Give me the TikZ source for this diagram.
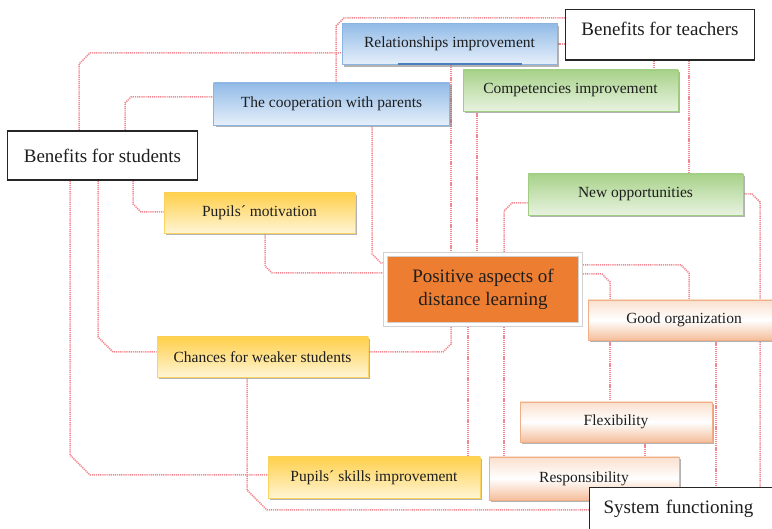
\documentclass[tikz,border=0pt]{standalone}
\usepackage{fontspec}
\setmainfont{Liberation Serif}
\usetikzlibrary{shadows}

\definecolor{linkred}{RGB}{242,135,145}
\definecolor{blueA}{RGB}{146,187,231}
\definecolor{blueB}{RGB}{230,239,250}
\definecolor{blueE}{RGB}{140,180,225}
\definecolor{blueLine}{RGB}{75,125,195}
\definecolor{greenA}{RGB}{168,210,138}
\definecolor{greenB}{RGB}{232,243,224}
\definecolor{greenE}{RGB}{160,205,130}
\definecolor{yellowA}{RGB}{255,208,76}
\definecolor{yellowB}{RGB}{255,245,212}
\definecolor{yellowE}{RGB}{250,212,95}
\definecolor{peachA}{RGB}{250,224,206}
\definecolor{peachB}{RGB}{245,190,155}
\definecolor{peachE}{RGB}{240,175,135}
\definecolor{orangeC}{RGB}{237,125,49}
\definecolor{txt}{RGB}{30,30,30}

\pgfdeclarelayer{background}
\pgfsetlayers{background,main}

\tikzset{
  box/.style={rectangle, inner sep=0pt, minimum height=40pt, text=txt,
    font=\fontsize{15.5}{18}\selectfont, line width=0.6pt,
    drop shadow={shadow xshift=2pt, shadow yshift=-2.5pt, fill=black!50, opacity=0.6}},
  bluebox/.style={box, draw=blueE, top color=blueA, bottom color=blueB},
  greenbox/.style={box, draw=greenE, top color=greenA, bottom color=greenB},
  yellowbox/.style={box, draw=yellowE, top color=yellowA, bottom color=yellowB},
  peachbox/.style={box, draw=peachE, top color=peachA, bottom color=peachB, middle color=white},
  head/.style={rectangle, draw=black!85, line width=1.2pt, fill=white, inner sep=0pt,
    font=\fontsize{19}{22}\selectfont, text=txt},
  central/.style={rectangle, fill=orangeC, draw=black!18, double=white, double distance=3pt,
    line width=0.7pt, minimum width=195pt, minimum height=70pt, align=center,
    font=\fontsize{19}{23}\selectfont, text=txt,
    drop shadow={shadow xshift=2pt, shadow yshift=-3pt, fill=black!45, opacity=0.6}},
  link/.style={draw=linkred, line width=1.5pt, dash pattern=on 1.2pt off 0.9pt},
}

\begin{document}
\begin{tikzpicture}[x=1pt, y=-1pt]
\useasboundingbox (0,0) rectangle (772,529);
\clip (0,0) rectangle (772,529);

% group headings
\node[head, minimum width=190pt, minimum height=49pt] (students) at (102.5,155.5) {Benefits for students};
\node[head, minimum width=189pt, text height=25.5pt, text depth=25pt, anchor=north] (teachers) at (660,9) {Benefits for teachers};

% aspect boxes
\node[bluebox, minimum width=215pt, minimum height=41pt] (relations) at (449.5,44) {Relationships improvement};
\draw[line width=1.8pt, draw=blueLine] ([xshift=56pt,yshift=1pt]relations.south west) -- ([xshift=-35pt,yshift=1pt]relations.south east);
\node[bluebox, minimum width=236pt, minimum height=42pt] (parents) at (331.5,104) {The cooperation with parents};
\node[greenbox, minimum width=215pt, minimum height=41pt] (competencies) at (570.5,90.5) {Competencies improvement};
\node[greenbox, minimum width=215pt, minimum height=41pt] (opportunities) at (635.5,194.5) {New opportunities};
\node[yellowbox, minimum width=191pt] (motivation) at (259.5,213) {Pupils´ motivation};
\node[yellowbox, minimum width=211pt] (chances) at (262.5,357) {Chances for weaker students};
\node[yellowbox, minimum width=212pt, minimum height=41pt] (skills) at (374,477.5) {Pupils´ skills improvement};
\node[peachbox, minimum width=192pt] (organization) at (684,320) {Good organization};
\node[peachbox, minimum width=192pt] (flexibility) at (616,422) {Flexibility};
\node[peachbox, minimum width=190pt, minimum height=43pt] (responsibility) at (584,478.5) {Responsibility};

% central topic
\node[central] (center) at (483,289.5) {Positive aspects of\\distance learning};

% third heading, partly beyond the frame
\node[head, anchor=north west, text width=180pt, inner xsep=14pt, inner ysep=0pt,
      text height=26pt, text depth=40pt, align=left] (system) at (589,487) {System functioning};

% dotted connectors
\begin{pgfonlayer}{background}
% from the students heading
\draw[link] (79,0 |- students.north) -- (79,64) -- (90,53) -- (relations.west |- 0,53);
\draw[link] (125,0 |- students.north) -- (125,103) -- (131,97) -- (parents.west |- 0,97);
\draw[link] (133,0 |- students.south) -- (133,204) -- (141,212) -- (motivation.west |- 0,212);
\draw[link] (98,0 |- students.south) -- (98,337) -- (113,352) -- (chances.west |- 0,352);
\draw[link] (70,0 |- students.south) -- (70,455) -- (90,475) -- (skills.west |- 0,475);
% from the teachers heading
\draw[link] (336,0 |- parents.north) -- (336,26) -- (344,18) -- (teachers.west |- 0,18);
\draw[link] (relations.east |- 0,44) -- (teachers.west |- 0,44);
\draw[link] (654,0 |- teachers.south) -- (654,0 |- competencies.north);
\draw[link] (689,0 |- teachers.south) -- (689,0 |- opportunities.north);
% into the central topic from above and the left
\draw[link] (451,0 |- relations.south) -- (451,0 |- center.north);
\draw[link] (477,0 |- competencies.south) -- (477,0 |- center.north);
\draw[link] (opportunities.west |- 0,203) -- (512,203) -- (504,211) -- (504,0 |- center.north);
\draw[link] (372,0 |- parents.south) -- (372,254) -- (381,263) -- (center.west |- 0,263);
\draw[link] (265,0 |- motivation.south) -- (265,266) -- (272,273) -- (center.west |- 0,273);
% out of the central topic to the right and below
\draw[link] (center.east |- 0,265) -- (681,265) -- (689,273) -- (689,0 |- organization.north);
\draw[link] (center.east |- 0,274) -- (602,274) -- (610,282) -- (610,0 |- organization.north);
\draw[link] (451,0 |- center.south) -- (451,344) -- (443,352) -- (chances.east |- 0,352);
\draw[link] (468,0 |- center.south) -- (468,0 |- skills.north);
\draw[link] (504,0 |- center.south) -- (504,0 |- responsibility.north);
% system functioning branch
\draw[link] (opportunities.east |- 0,194) -- (752,194) -- (760,202) -- (760,0 |- system.north);
\draw[link] (610,0 |- organization.south) -- (610,0 |- flexibility.north);
\draw[link] (716,0 |- organization.south) -- (716,0 |- system.north);
\draw[link] (645,0 |- flexibility.south) -- (645,0 |- responsibility.north);
\draw[link] (247,0 |- chances.south) -- (247,490) -- (267,510) -- (system.west |- 0,510);
\end{pgfonlayer}
\end{tikzpicture}
\end{document}
